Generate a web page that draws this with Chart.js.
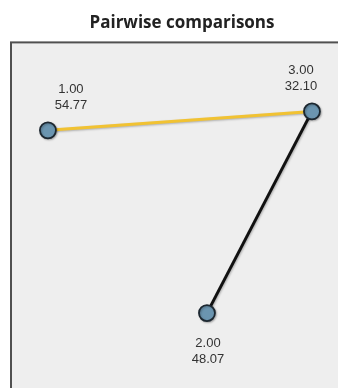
<!DOCTYPE html>
<html>
<head>
<meta charset="utf-8">
<script src="https://cdn.jsdelivr.net/npm/chart.js@4/dist/chart.umd.min.js"></script>
<style>
  html, body { margin: 0; padding: 0; background: #ffffff; overflow: hidden; width: 338px; height: 388px; }
  #wrap { width: 353px; height: 400px; position: relative; }
</style>
</head>
<body>
<div id="wrap"><canvas id="c"></canvas></div>
<script>
// Nodes of the pairwise comparison graph
const nodeLabels = ['1.00', '2.00', '3.00'];
const nodeValues = [54.77, 48.07, 32.10];
// Layout position of each node inside the plot (0–100 units)
const nodeX = [10.8, 57.3, 88.0];
const nodeY = [75.4, 24.3, 80.7];
// Edges between nodes (indices into the node arrays)
const edgeFrom = [0, 1];
const edgeTo = [2, 2];
const edgeColors = ['#f1c232', '#111111'];

// Offset of each node's two-line label from the node centre (px)
const labelDx = [23, 1, -11];
const labelDy = [-41, 30, -41];

const nodePoints = nodeLabels.map((_, i) => ({ x: nodeX[i], y: nodeY[i] }));

const edgeDatasets = edgeFrom.map((f, k) => ({
  data: [nodePoints[f], nodePoints[edgeTo[k]]],
  showLine: true,
  borderColor: edgeColors[k],
  borderWidth: 3,
  pointRadius: 0,
  order: 1
}));

const panelPlugin = {
  id: 'panel',
  beforeDraw(chart) {
    const { ctx, chartArea: a } = chart;
    ctx.save();
    ctx.fillStyle = '#eeeeee';
    ctx.fillRect(a.left, a.top, a.right - a.left, a.bottom - a.top);
    ctx.strokeStyle = '#505050';
    ctx.lineWidth = 2;
    ctx.strokeRect(a.left, a.top, a.right - a.left, a.bottom - a.top);
    ctx.restore();
  }
};

const edgeShadowPlugin = {
  id: 'edgeShadow',
  beforeDatasetsDraw(chart) {
    const ctx = chart.ctx;
    ctx.save();
    ctx.shadowColor = 'rgba(0,0,0,0.25)';
    ctx.shadowBlur = 2;
    ctx.shadowOffsetX = 1;
    ctx.shadowOffsetY = 1;
  },
  afterDatasetsDraw(chart) {
    chart.ctx.restore();
  }
};

const nodeLabelPlugin = {
  id: 'nodeLabels',
  afterDatasetsDraw(chart) {
    const { ctx, scales } = chart;
    ctx.save();
    ctx.fillStyle = '#333333';
    ctx.font = '13px "Liberation Sans", Arial, sans-serif';
    ctx.textAlign = 'center';
    ctx.textBaseline = 'middle';
    nodeLabels.forEach((lab, i) => {
      const px = scales.x.getPixelForValue(nodeX[i]) + labelDx[i];
      const py = scales.y.getPixelForValue(nodeY[i]) + labelDy[i];
      ctx.fillText(lab, px, py);
      ctx.fillText(nodeValues[i].toFixed(2), px, py + 16);
    });
    ctx.restore();
  }
};

new Chart(document.getElementById('c'), {
  type: 'scatter',
  data: {
    datasets: [
      {
        data: nodePoints,
        pointRadius: 8,
        pointBackgroundColor: '#6b95b0',
        pointBorderColor: '#1c2730',
        pointBorderWidth: 1.8,
        order: 0
      },
      ...edgeDatasets
    ]
  },
  options: {
    responsive: true,
    maintainAspectRatio: false,
    devicePixelRatio: 1,
    animation: false,
    layout: { autoPadding: false, padding: { left: 11, right: 0, top: 0, bottom: 0 } },
    scales: {
      x: { type: 'linear', min: 0, max: 100, display: false },
      y: { type: 'linear', min: 0, max: 100, display: false }
    },
    plugins: {
      legend: { display: false },
      tooltip: { enabled: false },
      title: {
        display: true,
        text: 'Pairwise comparisons',
        fullSize: false,
        color: '#222222',
        font: { family: '"Open Sans", sans-serif', size: 17, weight: 'bold', lineHeight: 1.2 },
        padding: { top: 13, bottom: 9 }
      }
    }
  },
  plugins: [panelPlugin, edgeShadowPlugin, nodeLabelPlugin]
});
</script>
</body>
</html>
